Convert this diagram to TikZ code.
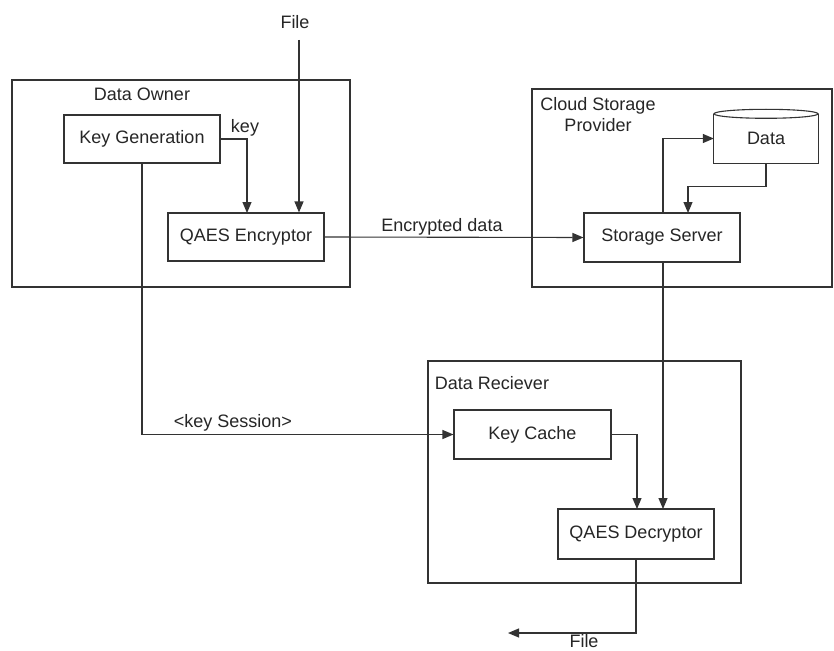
\documentclass[tikz,border=0pt]{standalone}
\usepackage{fontspec}
\setmainfont{Liberation Sans}
\usetikzlibrary{arrows.meta}
\begin{document}
\begin{tikzpicture}[x=1pt,y=-1pt,
  every node/.style={font=\fontsize{18}{21}\selectfont, text=black!85},
  line/.style={draw=black!80, line width=1.1pt},
  arr/.style={line, -{Triangle[length=11pt,width=9pt]}},
  group/.style={draw=black!80, line width=1.1pt, inner sep=0pt},
  block/.style={draw=black!80, line width=1.1pt, minimum width=156pt, minimum height=48pt, inner sep=0pt},
  lbl/.style={inner sep=0pt}]
\useasboundingbox[fill=white] (0,0) rectangle (834,650);

% group boxes
\node[group, minimum width=338pt, minimum height=207pt] (owner) at (181,183.5) {};
\node[group, minimum width=300pt, minimum height=198pt] (cloud) at (682,188) {};
\node[group, minimum width=313pt, minimum height=222pt] (recv) at (584.5,472) {};

\node[lbl] (ownerlbl) at (142,94) {Data Owner};
\node[lbl, align=center] (cloudlbl) at (598,114.5) {Cloud Storage\\Provider};
\node[lbl] (recvlbl) at (492,383) {Data Reciever};

% blocks
\node[block] (kg) at (142,139) {Key Generation};
\node[block] (enc) at (246,237) {QAES Encryptor};
\node[block, minimum height=49pt] (ss) at (662,237.5) {Storage Server};
\node[block, minimum width=157pt, minimum height=49pt] (kc) at (532.5,434.5) {Key Cache};
\node[block, minimum height=50pt] (dec) at (636,534) {QAES Decryptor};

% data store
\node[minimum width=104pt, minimum height=49pt, inner sep=0pt] (data) at (766,138.5) {Data};
\draw[line] (data.north west) -- (data.south west) -- (data.south east) -- (data.north east);
\draw[line] (data.north) ellipse [x radius=52, y radius=4.5];

% free ends
\coordinate (filein) at (299,40);
\coordinate (fileout) at (508,633);

% connectors
\draw[arr] (filein) -- (filein |- enc.north);
\node[lbl] (filelbl) at (295,22) {File};

\draw[arr] (kg.east) -| (247,213);
\node[lbl] (keylbl) at (245,128) {key};

\draw[arr] (enc.east) -- (ss.west);
\node[lbl] (enclbl) at (442,227) {Encrypted data};

\draw[arr] (663,213) |- (data.west);
\draw[arr] (data.south) -- ++(0,23) -| (688,213);

\draw[arr] (kg.south) |- (kc.west);
\node[lbl] (kslbl) at (233,423) {<key Session>};

\draw[arr] (kc.east) -| (637,509);
\draw[arr] (663,262) -- (663,509);

\draw[arr] (dec.south) |- (fileout);
\node[lbl] (fileoutlbl) at (584,641) {File};
\end{tikzpicture}
\end{document}
